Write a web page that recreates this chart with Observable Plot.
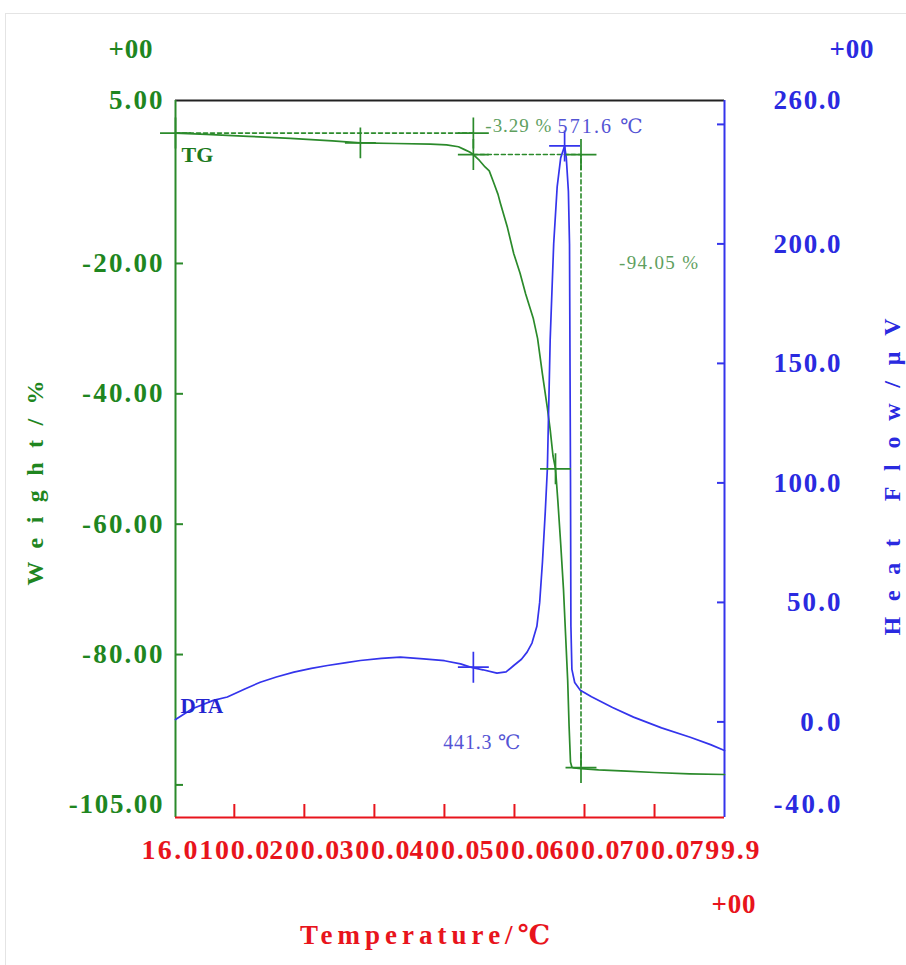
<!DOCTYPE html>
<html><head><meta charset="utf-8">
<script src="https://cdn.jsdelivr.net/npm/d3@7"></script>
<script src="https://cdn.jsdelivr.net/npm/@observablehq/plot@0.6"></script>
<style>
html,body{margin:0;padding:0;background:#fff;}
#wrap{position:relative;width:906px;height:965px;overflow:hidden;background:#fff;}
#border{position:absolute;left:5px;top:13px;width:930px;height:990px;border:1px solid #e4e4e4;}
#chart{position:absolute;left:0;top:0;}
</style></head><body>
<div id="wrap"><div id="border"></div><div id="chart"></div></div>
<script>
// ---- data ----
const tgTemp   = [16, 60, 120, 180, 240, 280, 330, 380, 403, 420, 428, 436, 441.3, 450, 458, 464, 470, 476.5, 480, 490, 499, 508, 516, 527, 533, 540, 547, 551, 555, 558.6, 562, 566, 570, 573, 576, 578, 580, 582, 585, 595, 620, 660, 700, 750, 799.9];
const tgWeight = [0, -0.2, -0.5, -0.8, -1.2, -1.5, -1.6, -1.7, -1.8, -2.1, -2.5, -2.9, -3.29, -4.2, -5.2, -5.8, -7.5, -9.4, -10.8, -14.5, -18.5, -21.5, -24.7, -28.5, -31.5, -37, -42.2, -45.5, -49.5, -51.5, -56.5, -63, -70, -77, -84, -91, -96.5, -97.3, -97.4, -97.5, -97.7, -97.9, -98.1, -98.3, -98.4];

const dtaTemp = [16, 40, 70, 90, 115, 137, 160, 185, 210, 233, 260, 280, 310, 337, 370, 400, 423, 437, 455, 475, 488, 499, 510, 518, 525, 532, 536, 540, 544, 547, 551, 556, 561, 566, 571.6, 574, 577, 578.6, 580, 580.6, 582, 586, 594, 610, 640, 670, 710, 751, 780, 799.9];
const dtaHeat = [1.0, 5.5, 9, 10.4, 13.8, 16.6, 18.8, 20.8, 22.4, 23.6, 24.8, 25.7, 26.6, 27.1, 26.4, 25.6, 24.3, 22.9, 21.8, 20.4, 20.9, 23.6, 26.2, 29.2, 33, 40, 50, 67, 88, 106, 160, 200, 224, 236, 241, 236, 222, 200, 101, 40, 22, 16.5, 13.2, 10.5, 6, 2, -2.5, -6.4, -9.5, -12];

const tgMarkTemp   = [16, 280, 441.3, 441.3, 595, 558.6, 595];
const tgMarkWeight = [0, -1.5, 0, -3.29, -3.29, -51.5, -97.34];
const dtaMarkTemp  = [441.3, 571.6];
const dtaMarkHeat  = [22.9, 241];

const stepTemp   = [16, 441.3, 595];
const stepWeight = [0, -3.29, -97.34];

const xLabelTicks   = [16, 100, 200, 300, 400, 500, 600, 700, 799.9];
const xMarkTicks    = [100, 200, 300, 400, 500, 600, 700];
const weightLabelTicks = [5, -20, -40, -60, -80, -105];
const weightMarkTicks  = [-20, -40, -60, -80, -100];
const heatLabelTicks   = [260, 200, 150, 100, 50, 0, -40];
const heatMarkTicks    = [250, 200, 150, 100, 50, 0];

const annotations = ["-3.29 %", "571.6 \u2103", "-94.05 %", "441.3 \u2103"];
const exponentLabel = "+00";
const titles = ["Weight/%", "Heat Flow/\u03bcV", "Temperature/\u2103"];
const seriesNames = ["TG", "DTA"];

// ---- colours ----
const G_LINE = "#2b8a2b", G_TEXT = "#1f861f", G_SOFT = "#5f9f5f";
const B_LINE = "#3434ec", B_TEXT = "#2a2ae0", B_SOFT = "#5454d4";
const RED = "#e8141c";

// DTA (right scale, -40..260) mapped onto the weight scale (-105..5)
const toW = v => -105 + (v + 40) * 110 / 300;
const fromW = w => (w + 105) * 300 / 110 - 40;

const tg = tgTemp.map((t, i) => ({t, w: tgWeight[i]}));
const dta = dtaTemp.map((t, i) => ({t, w: toW(dtaHeat[i])}));
const tgMarks = tgMarkTemp.map((t, i) => ({t, w: tgMarkWeight[i]}));
const dtaMarks = dtaMarkTemp.map((t, i) => ({t, w: toW(dtaMarkHeat[i])}));
const dashed = [
  {t: stepTemp[0], w: stepWeight[0], g: "a"}, {t: stepTemp[1], w: stepWeight[0], g: "a"},
  {t: stepTemp[1], w: stepWeight[1], g: "b"}, {t: stepTemp[2], w: stepWeight[1], g: "b"},
  {t: stepTemp[2], w: stepWeight[2], g: "b"}
];

const serif = "'Liberation Serif', 'DejaVu Serif', serif";

const svg = Plot.plot({
  width: 906, height: 965,
  marginLeft: 175, marginRight: 182, marginTop: 100, marginBottom: 148,
  x: {domain: [16, 799.9], label: null},
  y: {domain: [-105, 5], label: null},
  style: {background: "transparent", fontFamily: serif, overflow: "visible"},
  marks: [
    // frame
    Plot.ruleY([5], {stroke: "#222", strokeWidth: 2}),
    Plot.ruleX([16], {stroke: G_LINE, strokeWidth: 2}),
    Plot.ruleX([799.9], {stroke: B_LINE, strokeWidth: 2}),
    Plot.ruleY([-105], {stroke: RED, strokeWidth: 2}),

    // inward tick marks
    Plot.axisX(xMarkTicks, {anchor: "bottom", tickSize: -13, tickFormat: () => "", color: RED, strokeWidth: 2, label: null}),
    Plot.axisY(weightMarkTicks, {anchor: "left", tickSize: -8, tickFormat: () => "", color: G_LINE, strokeWidth: 2, label: null}),
    Plot.axisY(heatMarkTicks.map(toW), {anchor: "right", tickSize: -8, tickFormat: () => "", color: B_LINE, strokeWidth: 2, label: null}),

    // tick labels
    Plot.axisX(xLabelTicks.slice(1), {anchor: "bottom", tickSize: 0, tickPadding: 22, tickFormat: d => d.toFixed(1), color: RED, fontSize: 28, label: null}),
    Plot.axisX(xLabelTicks.slice(0, 1), {anchor: "bottom", tickSize: 0, tickPadding: 22, dx: -6, tickFormat: d => d.toFixed(1), color: RED, fontSize: 28, label: null}),
    Plot.axisY(weightLabelTicks.slice(0, 5), {anchor: "left", tickSize: 0, tickPadding: 13, tickFormat: d => d.toFixed(2), color: G_TEXT, fontSize: 27, label: null}),
    Plot.axisY(weightLabelTicks.slice(5), {anchor: "left", tickSize: 0, tickPadding: 13, dy: -13, tickFormat: d => d.toFixed(2), color: G_TEXT, fontSize: 27, label: null}),
    Plot.axisY(heatLabelTicks.slice(0, 6).map(toW), {anchor: "right", tickSize: 0, tickPadding: 116, textAnchor: "end", tickFormat: d => fromW(d).toFixed(1), color: B_TEXT, fontSize: 27, label: null}),
    Plot.axisY(heatLabelTicks.slice(6).map(toW), {anchor: "right", tickSize: 0, tickPadding: 116, textAnchor: "end", dy: -13, tickFormat: d => fromW(d).toFixed(1), color: B_TEXT, fontSize: 27, label: null}),

    // step construction lines
    Plot.line(dashed, {x: "t", y: "w", z: "g", stroke: G_LINE, strokeWidth: 1.6, strokeDasharray: "4,3"}),

    // curves
    Plot.line(tg, {x: "t", y: "w", stroke: G_LINE, strokeWidth: 1.7}),
    Plot.line(dta, {x: "t", y: "w", stroke: B_LINE, strokeWidth: 1.7}),

    // markers
    Plot.dot(tgMarks, {x: "t", y: "w", symbol: "plus", r: 10, stroke: G_LINE, strokeWidth: 1.7}),
    Plot.dot(dtaMarks, {x: "t", y: "w", symbol: "plus", r: 10, stroke: B_LINE, strokeWidth: 1.7}),

    // series labels
    Plot.text([tg[0]], {x: "t", y: "w", text: () => seriesNames[0], dx: 6, dy: 22, textAnchor: "start", fill: "#1d7a1d", fontSize: 22, fontWeight: "bold"}),
    Plot.text([dta[0]], {x: "t", y: "w", text: () => seriesNames[1], dx: 5, dy: -13, textAnchor: "start", fill: "#2424d0", fontSize: 21, fontWeight: "bold"}),

    // annotations
    Plot.text([tgMarks[2]], {x: "t", y: "w", text: () => annotations[0], dx: 12, dy: -7, textAnchor: "start", fill: G_SOFT, fontSize: 19}),
    Plot.text([dtaMarks[1]], {x: "t", y: "w", text: () => annotations[1], dx: -7, dy: -19, textAnchor: "start", fill: B_SOFT, fontSize: 20}),
    Plot.text([tgMarks[4]], {x: "t", y: "w", text: () => annotations[2], dx: 38, dy: 108, textAnchor: "start", fill: G_SOFT, fontSize: 19}),
    Plot.text([dtaMarks[0]], {x: "t", y: "w", text: () => annotations[3], dx: -30, dy: 75, textAnchor: "start", fill: B_SOFT, fontSize: 20}),

    // exponent labels
    Plot.text([exponentLabel], {frameAnchor: "top-left", textAnchor: "middle", dx: -45, dy: -62, fill: G_TEXT, fontSize: 27}),
    Plot.text([exponentLabel], {frameAnchor: "top-right", textAnchor: "middle", dx: 127, dy: -62, fill: B_TEXT, fontSize: 27}),
    Plot.text([exponentLabel], {frameAnchor: "bottom-right", textAnchor: "middle", dx: 9, dy: 95, fill: RED, fontSize: 27}),

    // axis titles
    Plot.text([titles[0]], {frameAnchor: "left", textAnchor: "middle", dx: -140, dy: 24, rotate: -90, fill: G_TEXT, fontSize: 24, fontWeight: "bold"}),
    Plot.text([titles[1]], {frameAnchor: "right", textAnchor: "middle", dx: 168, dy: 18, rotate: -90, fill: B_TEXT, fontSize: 24, fontWeight: "bold"}),
    Plot.text([titles[2]], {frameAnchor: "bottom", textAnchor: "middle", dx: -25, dy: 126, fill: RED, fontSize: 27, fontWeight: "bold"})
  ]
});

// monospace-like spacing of the instrument's font, matched by text content
const fixedLen = new Map([
  [titles[0], 205], [titles[1], 317], [titles[2], 250],
  [exponentLabel, 44],
  [annotations[0], 66], [annotations[1], 85], [annotations[2], 79], [annotations[3], 77]
]);
d3.select(svg).selectAll("text").each(function() {
  const s = this.textContent;
  if (!s) return;
  const parent = this.parentNode && this.parentNode.getAttribute("aria-label");
  let len = null, bold = false;
  if (fixedLen.has(s)) len = fixedLen.get(s);
  else if (parent === "x-axis tick label") { len = s.length * 14; bold = true; }
  else if (parent === "y-axis tick label") { len = s.length * 13.4; bold = true; }
  if (len != null) {
    this.setAttribute("textLength", len);
    this.setAttribute("lengthAdjust", "spacing");
  }
  if (bold || s === exponentLabel) this.setAttribute("font-weight", "bold");
});

document.getElementById("chart").appendChild(svg);
</script>
</body></html>
